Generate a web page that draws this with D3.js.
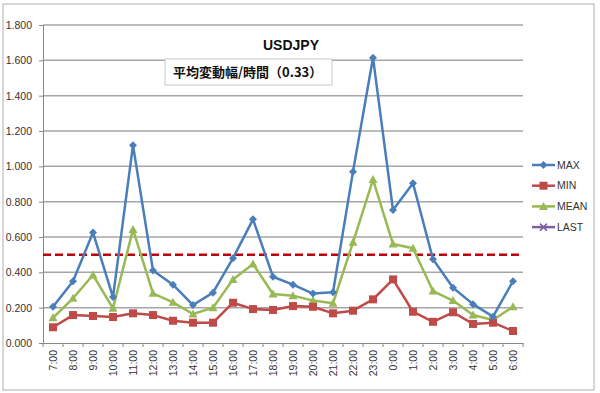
<!DOCTYPE html>
<html><head><meta charset="utf-8">
<script src="https://cdn.jsdelivr.net/npm/d3@7"></script>
<style>html,body{margin:0;padding:0;background:#fff;}svg{display:block;}</style>
</head><body>
<svg id="chart" width="600" height="393"></svg>
<script>
const categories = ["7:00","8:00","9:00","10:00","11:00","12:00","13:00","14:00","15:00","16:00","17:00","18:00","19:00","20:00","21:00","22:00","23:00","0:00","1:00","2:00","3:00","4:00","5:00","6:00"];
const maxValues  = [0.205,0.35,0.625,0.26,1.12,0.41,0.33,0.215,0.285,0.48,0.70,0.375,0.33,0.28,0.287,0.97,1.615,0.753,0.904,0.474,0.313,0.22,0.149,0.35];
const minValues  = [0.089,0.158,0.153,0.147,0.168,0.158,0.126,0.115,0.115,0.228,0.192,0.187,0.209,0.205,0.168,0.183,0.247,0.36,0.177,0.12,0.174,0.108,0.115,0.068];
const meanValues = [0.143,0.253,0.385,0.196,0.643,0.281,0.23,0.164,0.2,0.36,0.447,0.277,0.268,0.24,0.225,0.57,0.925,0.56,0.536,0.294,0.24,0.158,0.13,0.205];
const lastValues = [];
const yTicks = [0,0.2,0.4,0.6,0.8,1.0,1.2,1.4,1.6,1.8];
const refLine = 0.5;
const seriesNames = ["MAX","MIN","MEAN","LAST"];
const title = "USDJPY";
const subtitle = "平均変動幅/時間（0.33）";

const colors = {MAX:"#4a7ebb", MIN:"#be4b48", MEAN:"#98b954", LAST:"#7d60a0"};
const svg = d3.select("#chart");
const font = "'Liberation Sans', Arial, sans-serif";

// outer border
svg.append("rect").attr("x",3).attr("y",4).attr("width",591).attr("height",386)
  .attr("fill","#fff").attr("stroke","#b0b0b0").attr("stroke-width",1);

const L=43, R=523, T=25, B=343;
const x = d3.scaleBand().domain(categories).range([L,R]);
const y = d3.scaleLinear().domain([0,1.8]).range([B,T]);
const cx = d => x(d)+x.bandwidth()/2;

// gridlines
svg.append("g").selectAll("line").data(yTicks.filter(v=>v>0)).join("line")
  .attr("x1",L).attr("x2",R).attr("y1",d=>y(d)).attr("y2",d=>y(d))
  .attr("stroke","#a6a6a6").attr("stroke-width",1.5);

// y axis
const yAxis = d3.axisLeft(y).tickValues(yTicks).tickFormat(d3.format(".3f")).tickSize(4).tickPadding(7);
const gy = svg.append("g").attr("transform",`translate(${L},0)`).call(yAxis);
gy.select(".domain").attr("stroke","#888");
gy.selectAll(".tick line").attr("stroke","#888");
gy.selectAll("text").attr("font-family",font).attr("font-size",10.5).attr("fill","#333");

// x axis
const xAxis = d3.axisBottom(x).tickSize(0).tickPadding(6);
const gx = svg.append("g").attr("transform",`translate(0,${B})`).call(xAxis);
gx.select(".domain").attr("stroke","#888");
gx.selectAll("text").attr("font-family",font).attr("font-size",10.5).attr("fill","#333")
  .attr("transform","rotate(-90)").attr("text-anchor","end").attr("dy","0.35em")
  .attr("x",-7).attr("y",0);
// category boundary ticks
const bounds = categories.map(c=>x(c)).concat([R]);
svg.append("g").selectAll("line").data(bounds).join("line")
  .attr("x1",d=>d).attr("x2",d=>d).attr("y1",B).attr("y2",B+4)
  .attr("stroke","#888");

// reference line
svg.append("line").attr("x1",L).attr("x2",R).attr("y1",y(refLine)).attr("y2",y(refLine))
  .attr("stroke","#c0000a").attr("stroke-width",2.5).attr("stroke-dasharray","8,4");

const line = d3.line().x((d,i)=>cx(categories[i])).y(d=>y(d));
const seriesData = {MAX:maxValues, MIN:minValues, MEAN:meanValues, LAST:lastValues};

function marker(g, name, px, py){
  const c = colors[name];
  if(name==="MAX"){
    g.append("path").attr("d",`M${px},${py-4}L${px+4},${py}L${px},${py+4}L${px-4},${py}Z`).attr("fill",c);
  } else if(name==="MIN"){
    g.append("rect").attr("x",px-4).attr("y",py-4).attr("width",8).attr("height",8).attr("fill",c);
  } else if(name==="MEAN"){
    g.append("path").attr("d",`M${px},${py-4.5}L${px+4.5},${py+3.5}L${px-4.5},${py+3.5}Z`).attr("fill",c);
  } else {
    g.append("path").attr("d",`M${px-3.5},${py-3.5}L${px+3.5},${py+3.5}M${px-3.5},${py+3.5}L${px+3.5},${py-3.5}`).attr("stroke",c).attr("stroke-width",1.5);
  }
}

["MAX","MIN","MEAN","LAST"].slice().reverse().forEach(name=>{
  const vals = seriesData[name];
  if(!vals.length) return;
  const g = svg.append("g");
  g.append("path").attr("d",line(vals)).attr("fill","none").attr("stroke",colors[name]).attr("stroke-width",2.5).attr("stroke-linejoin","round");
  vals.forEach((v,i)=>marker(g,name,cx(categories[i]),y(v)));
});

// legend
const lg = svg.append("g");
seriesNames.forEach((name,i)=>{
  const ly = 165 + i*20.7;
  lg.append("line").attr("x1",532).attr("x2",555).attr("y1",ly).attr("y2",ly).attr("stroke",colors[name]).attr("stroke-width",2.5);
  marker(lg,name,543.5,ly);
  lg.append("text").attr("x",557).attr("y",ly).attr("dy","0.35em").attr("font-family",font).attr("font-size",10.5).attr("fill","#333").text(name);
});

// title
svg.append("text").attr("x",291).attr("y",50).attr("text-anchor","middle").attr("font-family",font)
  .attr("font-weight","bold").attr("font-size",14).attr("fill","#111").text(title);

// subtitle box
svg.append("rect").attr("x",165).attr("y",59).attr("width",167).attr("height",26)
  .attr("fill","#fff").attr("stroke","#c8c8c8").attr("stroke-width",1);
svg.append("text").attr("x",173).attr("y",77).attr("font-family","'Noto Sans CJK JP', sans-serif")
  .attr("font-weight","bold").attr("font-size",13).attr("fill","#111").text(subtitle);
</script>
</body></html>
